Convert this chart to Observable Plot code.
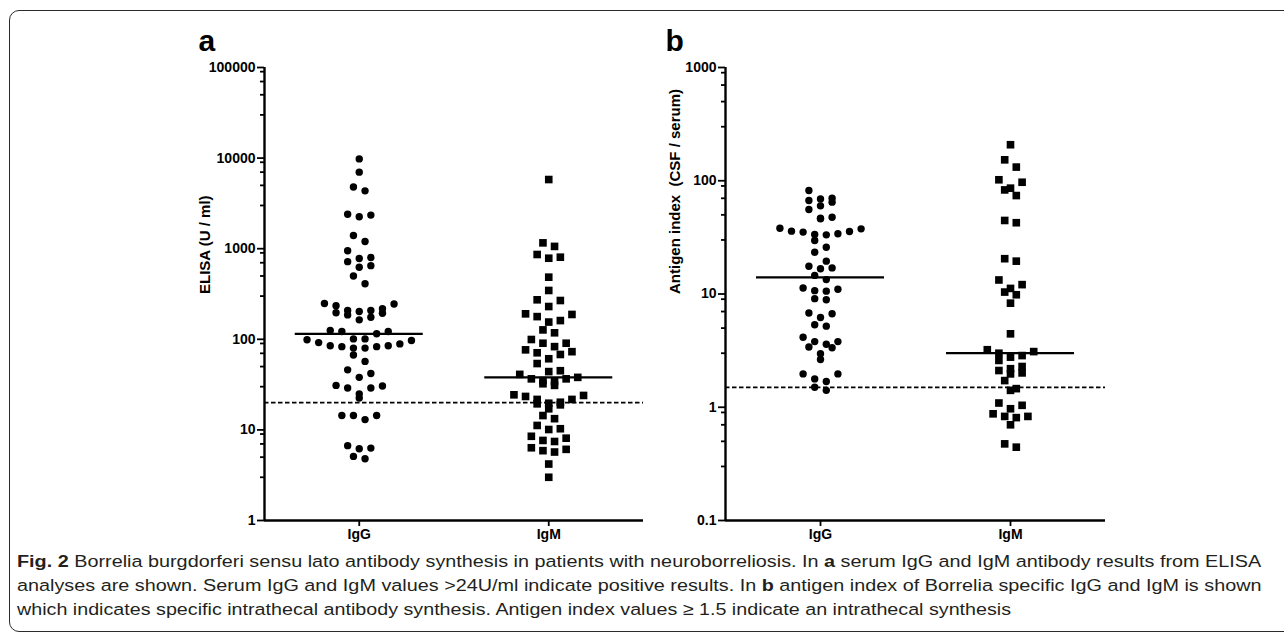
<!DOCTYPE html>
<html><head><meta charset="utf-8">
<script src="https://cdn.jsdelivr.net/npm/d3@7"></script>
<script src="https://cdn.jsdelivr.net/npm/@observablehq/plot@0.6"></script>
<style>
html,body{margin:0;padding:0;background:#fff;}
#root{position:relative;width:1284px;height:639px;overflow:hidden;background:#fff;}
#border{position:absolute;left:9px;top:10px;width:1320px;height:622px;border:1.5px solid #2b2b2b;border-radius:10px;box-sizing:border-box;}
.panel{position:absolute;top:0;}
#caption{position:absolute;left:0;top:540px;}
</style></head><body>
<div id="root"><div id="border"></div><div id="pa" class="panel" style="left:0px"></div><div id="pb" class="panel" style="left:660px"></div><svg id="caption" width="1284" height="99"></svg></div>
<script>
// ---- data ----
const groups = ["IgG", "IgM"];
const elisaIgG = [9800, 7000, 4800, 4350, 2350, 2250, 2400, 1400, 1200, 950, 800, 720, 625, 650, 780, 500, 410,
  245, 218, 235, 248, 208, 203, 194, 175, 164, 186, 196, 208, 122, 115, 122, 125, 101, 101,
  99, 92, 85, 83, 80, 80, 83, 85, 89, 97, 67, 57, 46, 38, 42, 29, 30.5, 31, 29, 25, 22.5,
  14.4, 13, 14.4, 14.4, 6.2, 6.7, 6.3, 4.8, 5.1];
const elisaIgM = [5800, 1060, 1160, 806, 785, 863, 485, 346, 273, 268, 230, 191, 178, 188,
  155, 161, 127, 118, 99.5, 83, 90.5, 90.5, 73, 68, 71, 76.5, 61, 54, 44, 45,
  38, 36.6, 34.2, 32.3, 35, 36.6, 41, 31, 24.4, 23.4, 24, 21.7, 19.7, 18.9, 17.1, 19.4, 20.2, 21.7,
  14.4, 13.3, 10.3, 11.2, 10.1, 7.45, 8.5, 8.1, 7.65, 6.1, 5.7, 5.9, 6.35, 4.2, 3.0];
const indexIgG = [82, 69, 64.7, 60, 67, 70, 55.7, 47.6, 46.1, 46.7, 38.1, 35.9, 35.2, 33.5, 33.3, 34, 35.6, 37.6,
  29.7, 25.9, 23.4, 19.5, 17, 16.7, 17.6, 14.6, 13.4, 11, 10.6, 11.3, 10.7, 8.9, 9.1, 6.8, 6.2, 6.7,
  5.2, 5.35, 3.8, 3.6, 3.4, 3.35, 3.8, 4.15, 2.97, 2.64, 1.97, 1.97, 1.69, 1.78, 1.41, 1.5];
const indexIgM = [208, 153, 132, 97, 102, 83, 74, 86, 42.6, 44.6, 20.5, 19.5, 13.3, 11.2, 12.1, 10.4, 9.85, 8.3,
  4.45, 3.22, 3.0, 2.77, 2.59, 2.86, 3.1, 2.29, 2.11, 1.97, 2.01, 2.19, 1.72, 1.46, 1.41,
  1.09, 0.97, 1.04, 0.83, 0.81, 0.83, 0.875, 0.7, 0.444, 0.475];
const elisaTicks = [1, 10, 100, 1000, 10000, 100000];
const indexTicks = [0.1, 1, 10, 100, 1000];
const minorMultiples = [3, 5, 7, 9];
const elisaCutoff = 20;
const indexCutoff = 1.5;
const titleA = "ELISA (U / ml)";
const titleB = "Antigen index  (CSF / serum)";
const captionLines = [
  [["Fig. 2", true], [" Borrelia burgdorferi sensu lato antibody synthesis in patients with neuroborreliosis. In ", false], ["a", true], [" serum IgG and IgM antibody results from ELISA", false]],
  [["analyses are shown. Serum IgG and IgM values >24U/ml indicate positive results. In ", false], ["b", true], [" antigen index of Borrelia specific IgG and IgM is shown", false]],
  [["which indicates specific intrathecal antibody synthesis. Antigen index values \u2265 1.5 indicate an intrathecal synthesis", false]]
];

// ---- layout helpers ----
const SPACING = 11.6, BIN = 9;
function swarm(values, yPix) {
  const pts = values.map((v, i) => ({v, i, py: yPix(v), slot: 0}));
  const order = pts.slice().sort((a, b) => a.py - b.py);
  const rows = [];
  let row = null;
  for (const p of order) {
    if (!row || p.py - row.start >= BIN) { row = {start: p.py, pts: []}; rows.push(row); }
    row.pts.push(p);
  }
  for (const r of rows) {
    const n = r.pts.length;
    const slots = d3.range(n).map(k => k - (n - 1) / 2).sort((a, b) => Math.abs(a) - Math.abs(b) || b - a);
    r.pts.slice().sort((a, b) => a.v - b.v).forEach((p, k) => p.slot = slots[k]);
  }
  return pts.map(p => p.slot * SPACING);
}

function panel({letter, title, series, ticks, cutoff, width, marginLeft, marginRight, titleDx, letterDx}) {
  const height = 560, marginTop = 67, marginBottom = 40;
  const lo = d3.min(ticks), hi = d3.max(ticks);
  const yPix = d3.scaleLog().domain([lo, hi]).range([height - marginBottom, marginTop]);
  const unit = (width - marginLeft - marginRight) / 2;
  const pts = [];
  series.forEach((vals, gi) => {
    const off = swarm(vals, yPix);
    vals.forEach((v, k) => pts.push({gi, value: v, x: gi + off[k] / unit}));
  });
  const medians = series.map((vals, gi) => ({gi, value: d3.median(vals)}));
  const mw = 64 / unit;
  const minor = [];
  ticks.slice(0, -1).forEach(t => minorMultiples.forEach(m => minor.push(t * m)));
  const font = {fontWeight: "bold", fontSize: 14};
  return Plot.plot({
    width, height, marginTop, marginBottom, marginLeft, marginRight,
    x: {type: "linear", domain: [-0.5, 1.5], axis: null, label: null},
    y: {type: "log", domain: [lo, hi], axis: null, label: null},
    style: {fontFamily: "'Liberation Sans', Arial, sans-serif", color: "#000", background: "transparent", overflow: "visible"},
    marks: [
      Plot.ruleY([cutoff], {stroke: "#000", strokeWidth: 1.7, strokeDasharray: "4.5,2.5"}),
      Plot.ruleY(medians, {y: "value", x1: d => d.gi - mw, x2: d => d.gi + mw, stroke: "#000", strokeWidth: 2.2}),
      Plot.dot(pts.filter(d => d.gi === 0), {x: "x", y: "value", r: 3.7, fill: "#000", symbol: "circle"}),
      Plot.dot(pts.filter(d => d.gi === 1), {x: "x", y: "value", r: 4.3, fill: "#000", symbol: "square"}),
      Plot.axisY(minor, {tickSize: 4, tickFormat: () => "", strokeWidth: 1.8, label: null}),
      Plot.axisY(ticks, {tickSize: 7, tickPadding: 2, tickFormat: d => String(d), strokeWidth: 1.8, label: null, ...font}),
      Plot.axisX([0, 1], {tickSize: 6, tickPadding: 3, tickFormat: i => groups[i], strokeWidth: 1.8, label: null, ...font}),
      Plot.ruleX([-0.5], {stroke: "#000", strokeWidth: 2.4}),
      Plot.ruleY([lo], {stroke: "#000", strokeWidth: 2.4}),
      Plot.text([title], {frameAnchor: "left", text: d => d, rotate: -90, dx: titleDx, fontWeight: "bold", fontSize: 15, fill: "#000"}),
      Plot.text([letter], {frameAnchor: "top-left", text: d => d, dx: letterDx, dy: -17, textAnchor: "start", lineAnchor: "bottom", fontWeight: "bold", fontSize: 30, fill: "#000"})
    ]
  });
}

document.getElementById("pa").append(panel({
  letter: "a", title: titleA, series: [elisaIgG, elisaIgM], ticks: elisaTicks, cutoff: elisaCutoff,
  width: 660, marginLeft: 264, marginRight: 17, titleDx: -59, letterDx: -66
}));
document.getElementById("pb").append(panel({
  letter: "b", title: titleB, series: [indexIgG, indexIgM], ticks: indexTicks, cutoff: indexCutoff,
  width: 624, marginLeft: 65, marginRight: 179, titleDx: -50, letterDx: -60
}));

// ---- caption ----
const cap = d3.select("#caption");
const capTargets = [1245, 1245, 995];
const capBase = [27, 51, 75];
captionLines.forEach((parts, li) => {
  const t = cap.append("text").attr("x", 0).attr("y", 0)
    .attr("font-family", "'Liberation Sans Narrow', 'Liberation Sans', Arial, sans-serif")
    .attr("font-size", 17).attr("fill", "#231f20");
  parts.forEach(([s, b]) => t.append("tspan").attr("font-weight", b ? "bold" : "normal").text(s));
  const w = t.node().getComputedTextLength();
  t.attr("transform", `translate(17,${capBase[li]}) scale(${capTargets[li] / w},1)`);
});
</script>
</body></html>
